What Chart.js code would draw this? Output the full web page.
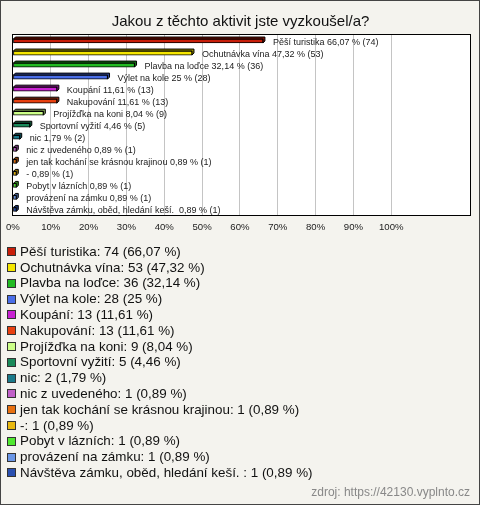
<!DOCTYPE html>
<html>
<head>
<meta charset="utf-8">
<script src="https://cdn.jsdelivr.net/npm/chart.js@4"></script>
<style>
  html, body { margin: 0; padding: 0; background: #f4f3ee; }
  #wrap { width: 480px; height: 505px; }
</style>
</head>
<body>
<div id="wrap"><canvas id="chart" width="480" height="505"></canvas></div>
<script>
// Data
const categories = [
  'Pěší turistika', 'Ochutnávka vína', 'Plavba na loďce', 'Výlet na kole',
  'Koupání', 'Nakupování', 'Projížďka na koni', 'Sportovní vyžití', 'nic',
  'nic z uvedeného', 'jen tak kochání se krásnou krajinou', '-',
  'Pobyt v lázních', 'provázení na zámku', 'Návštěva zámku, oběd, hledání keší. '
];
const counts = [74, 53, 36, 28, 13, 13, 9, 5, 2, 1, 1, 1, 1, 1, 1];
const percents = [66.07, 47.32, 32.14, 25, 11.61, 11.61, 8.04, 4.46, 1.79, 0.89, 0.89, 0.89, 0.89, 0.89, 0.89];
const colors = [
  '#c81e0a', '#f5e600', '#22bb22', '#4a6ee8', '#c822d2', '#e84010', '#ccff88',
  '#1a8a5a', '#1a7a8a', '#c060c8', '#e87010', '#e8b810', '#50e830', '#6a96e6', '#2a50b0'
];
const titleText = 'Jakou z těchto aktivit jste vyzkoušel/a?';
const sourceText = 'zdroj: https://42130.vyplnto.cz';

const FONT = "'Liberation Sans', Arial, sans-serif";
Chart.defaults.font.family = FONT;

function fmt(v) {
  return String(v).replace('.', ',');
}

function darker(hex, f) {
  const n = parseInt(hex.slice(1), 16);
  const r = Math.round(((n >> 16) & 255) * f);
  const g = Math.round(((n >> 8) & 255) * f);
  const b = Math.round((n & 255) * f);
  return `rgb(${r},${g},${b})`;
}

// fondo, área blanca y marco
const framePlugin = {
  id: 'frame',
  beforeDraw(chart) {
    const { ctx, chartArea: a } = chart;
    ctx.save();
    ctx.fillStyle = '#f4f3ee';
    ctx.fillRect(0, 0, chart.width, chart.height);
    ctx.fillStyle = '#ffffff';
    ctx.fillRect(a.left, a.top, a.right - a.left, a.bottom - a.top);
    ctx.restore();
  },
  afterDraw(chart) {
    const { ctx, chartArea: a } = chart;
    ctx.save();
    ctx.strokeStyle = '#000';
    ctx.lineWidth = 1;
    ctx.strokeRect(Math.round(a.left) - 0.5, Math.round(a.top) - 0.5,
      Math.round(a.right - a.left) + 1, Math.round(a.bottom - a.top) + 1);
    ctx.strokeStyle = '#444';
    ctx.strokeRect(0.5, 0.5, chart.width - 1, chart.height - 1);
    ctx.restore();
  }
};

// efecto 3D de las barras
const depthPlugin = {
  id: 'depth',
  beforeDatasetsDraw(chart) {
    const { ctx } = chart;
    const d = 2;
    ctx.save();
    ctx.lineWidth = 1;
    ctx.strokeStyle = '#000';
    chart.getDatasetMeta(0).data.forEach((bar, i) => {
      const left = bar.base, right = bar.x;
      const top = bar.y - bar.height / 2, bottom = bar.y + bar.height / 2;
      ctx.fillStyle = darker(colors[i], 0.6);
      ctx.beginPath();
      ctx.moveTo(left, top);
      ctx.lineTo(left + d, top - d);
      ctx.lineTo(right + d, top - d);
      ctx.lineTo(right + d, bottom - d);
      ctx.lineTo(right, bottom);
      ctx.lineTo(right, top);
      ctx.closePath();
      ctx.fill();
      ctx.stroke();
    });
    ctx.restore();
  },
  afterDatasetsDraw(chart) {
    // etiquetas junto a cada barra
    const { ctx } = chart;
    const xs = chart.scales.x;
    ctx.save();
    ctx.font = '9px ' + FONT;
    ctx.fillStyle = '#222';
    ctx.textBaseline = 'middle';
    chart.getDatasetMeta(0).data.forEach((bar, i) => {
      const txt = categories[i] + ' ' + fmt(percents[i]) + ' % (' + counts[i] + ')';
      ctx.fillText(txt, xs.getPixelForValue(percents[i]) + 10, bar.y + 1);
    });
    ctx.restore();
  }
};

// leyenda, un elemento por línea
const legendPlugin = {
  id: 'listLegend',
  afterDraw(chart) {
    const { ctx } = chart;
    ctx.save();
    ctx.textBaseline = 'middle';
    categories.forEach((c, i) => {
      const y = 251.7 + i * 15.8;
      ctx.fillStyle = colors[i];
      ctx.fillRect(7, Math.round(y - 4.5), 9, 9);
      ctx.strokeStyle = '#333';
      ctx.lineWidth = 1;
      ctx.strokeRect(7.5, Math.round(y - 4.5) + 0.5, 8, 8);
      ctx.fillStyle = '#111';
      ctx.font = '13.4px ' + FONT;
      ctx.fillText(c + ': ' + counts[i] + ' (' + fmt(percents[i]) + ' %)', 20, y + 0.5);
    });
    ctx.font = '12px ' + FONT;
    ctx.fillStyle = '#888';
    ctx.textAlign = 'right';
    ctx.fillText(sourceText, 470, 493);
    ctx.restore();
  }
};

new Chart(document.getElementById('chart'), {
  type: 'bar',
  data: {
    labels: categories,
    datasets: [{
      data: percents,
      backgroundColor: colors,
      borderColor: '#000',
      borderWidth: 1,
      borderSkipped: false,
      barThickness: 4
    }]
  },
  options: {
    indexAxis: 'y',
    responsive: false,
    animation: false,
    layout: { padding: { left: 11, right: 10, top: 0, bottom: 266 } },
    plugins: {
      legend: { display: false },
      tooltip: { enabled: false },
      title: {
        display: true,
        text: titleText,
        color: '#111',
        font: { size: 15, weight: 'normal' },
        padding: { top: 13, bottom: 4 }
      }
    },
    scales: {
      x: {
        min: 0,
        max: 120.8,
        afterBuildTicks: axis => {
          axis.ticks = axis.ticks.filter(t => t.value <= 100);
        },
        ticks: {
          stepSize: 10,
          color: '#222',
          padding: 6,
          font: { size: 9.6 },
          callback: v => v + '%'
        },
        grid: { color: '#c4c4c4', drawTicks: false },
        border: { display: false }
      },
      y: { display: false }
    }
  },
  plugins: [framePlugin, depthPlugin, legendPlugin]
});
</script>
</body>
</html>
